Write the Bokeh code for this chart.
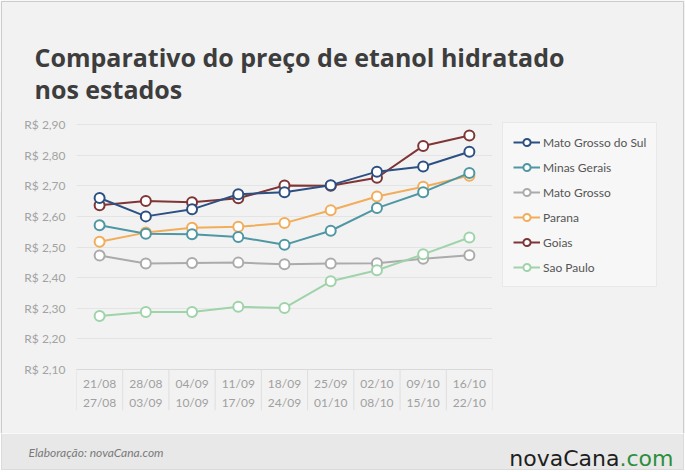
from bokeh.plotting import figure
from bokeh.models import (FactorRange, Range1d, FixedTicker, CustomJSTickFormatter,
                          Legend, LegendItem, Label, BoxAnnotation)
from bokeh.core.properties import value
from bokeh.embed import file_html
from bokeh.resources import INLINE

# ---------------- data ----------------
TITLE_1 = "Comparativo do preço de etanol hidratado"
TITLE_2 = "nos estados"
SOURCE = "Elaboração: novaCana.com"
LOGO_MAIN = "novaCana"
LOGO_TLD = ".com"

WEEK_START = ["21/08", "28/08", "04/09", "11/09", "18/09", "25/09", "02/10", "09/10", "16/10"]
WEEK_END = ["27/08", "03/09", "10/09", "17/09", "24/09", "01/10", "08/10", "15/10", "22/10"]
Y_TICKS = [2.10, 2.20, 2.30, 2.40, 2.50, 2.60, 2.70, 2.80, 2.90]

mato_grosso_do_sul = [2.660, 2.600, 2.623, 2.672, 2.679, 2.702, 2.746, 2.763, 2.811]
minas_gerais = [2.571, 2.543, 2.542, 2.533, 2.507, 2.553, 2.627, 2.679, 2.742]
mato_grosso = [2.472, 2.446, 2.448, 2.449, 2.444, 2.446, 2.447, 2.462, 2.473]
parana = [2.517, 2.547, 2.563, 2.566, 2.578, 2.620, 2.665, 2.697, 2.733]
goias = [2.636, 2.650, 2.646, 2.659, 2.701, 2.700, 2.726, 2.830, 2.864]
sao_paulo = [2.275, 2.288, 2.288, 2.305, 2.301, 2.388, 2.424, 2.476, 2.531]

SERIES_NAMES = ["Mato Grosso do Sul", "Minas Gerais", "Mato Grosso", "Parana", "Goias", "Sao Paulo"]
SERIES_VALUES = [mato_grosso_do_sul, minas_gerais, mato_grosso, parana, goias, sao_paulo]
SERIES_COLORS = ["#2d5083", "#4f97a3", "#ababab", "#f2ad5b", "#7f3535", "#9fd3a9"]
DRAW_ORDER = [4, 3, 2, 5, 1, 0]

# ---------------- layout constants (pixels) ----------------
W = 685
H_TOP, H_MAIN, H_FOOT = 112, 321, 39
FONT = "Lato"
BG = "#f2f2f2"
EDGE = "#cccccc"

FL, FR, FT, FB = 76, 492, 0, 298
Y_TOP_PX, Y_BOT_PX = 12.0, 257.0
PPU = (Y_BOT_PX - Y_TOP_PX) / (Y_TICKS[-1] - Y_TICKS[0])
Y0 = Y_TICKS[0]
y_start = Y0 - (FB - Y_BOT_PX) / PPU
y_end = Y_TICKS[-1] + (Y_TOP_PX - FT) / PPU


def plain_fig(h, fill):
    f = figure(width=W, height=h, output_backend="svg", toolbar_location=None,
               x_range=Range1d(0, W), y_range=Range1d(h, 0),
               min_border_left=0, min_border_right=0,
               min_border_top=0, min_border_bottom=0)
    f.axis.visible = False
    f.grid.visible = False
    f.background_fill_color = fill
    f.border_fill_color = fill
    f.outline_line_color = None
    return f


# ---------------- title ----------------
top = plain_fig(H_TOP, BG)
top.segment(x0=[1, 1, 683], y0=[1, 1, 1], x1=[683, 1, 683], y1=[1, H_TOP, H_TOP],
            line_color=EDGE, line_width=1)
for txt, base in [(TITLE_1, 56.7), (TITLE_2, 88.3)]:
    top.add_layout(Label(x=34, y=base, text=txt, text_font="Open Sans", text_font_size="25px",
                         text_font_style="bold", text_color="#3d3d3d",
                         text_baseline="alphabetic", text_align="left"))

# ---------------- main chart ----------------
p = figure(frame_width=FR - FL, frame_height=FB - FT, output_backend="svg",
           toolbar_location=None,
           x_range=FactorRange(factors=WEEK_START, range_padding=0, factor_padding=0),
           y_range=Range1d(y_start, y_end),
           min_border_left=FL, min_border_right=W - FR,
           min_border_top=FT, min_border_bottom=H_MAIN - FB)
p.background_fill_color = BG
p.border_fill_color = None
p.outline_line_color = None
p.styles = {"background": "linear-gradient(to right, %s 1px, %s 1px, %s 2px, %s 2px, "
                          "%s 683px, %s 683px, %s 684px, %s 684px)"
                          % (BG, EDGE, EDGE, BG, BG, EDGE, EDGE, BG)}

p.xaxis.visible = False
p.xgrid.visible = False

yax = p.yaxis[0]
yax.ticker = FixedTicker(ticks=Y_TICKS)
yax.formatter = CustomJSTickFormatter(code='return "R$ " + tick.toFixed(2).replace(".", ",")')
yax.axis_line_color = None
yax.major_tick_line_color = None
yax.minor_tick_line_color = None
yax.major_tick_in = 0
yax.major_tick_out = 0
yax.minor_tick_in = 0
yax.minor_tick_out = 0
yax.major_label_standoff = 11
yax.major_label_text_font = FONT
yax.major_label_text_font_size = "12px"
yax.major_label_text_color = "#a3a3a3"
p.ygrid.ticker = FixedTicker(ticks=Y_TICKS)
p.ygrid.grid_line_color = "#e4e4e4"
p.ygrid.grid_line_width = 1

n = len(WEEK_START)
p.segment(x0=[0], y0=[Y0], x1=[n], y1=[Y0], line_color="#d9d9d9", line_width=1)
p.segment(x0=list(range(n + 1)), y0=[Y0] * (n + 1), x1=list(range(n + 1)),
          y1=[Y0 - 41 / PPU] * (n + 1), line_color="#dedede", line_width=1)
p.text(x=WEEK_START, y=[Y0 - 13.7 / PPU] * n, text=WEEK_START,
       text_font=value(FONT), text_font_size="12px", text_color="#a0a0a0",
       text_align="center", text_baseline="middle")
p.text(x=WEEK_START, y=[Y0 - 33.3 / PPU] * n, text=WEEK_END,
       text_font=value(FONT), text_font_size="12px", text_color="#a0a0a0",
       text_align="center", text_baseline="middle")

items = [None] * len(SERIES_NAMES)
for i in DRAW_ORDER:
    c = SERIES_COLORS[i]
    ln = p.line(x=WEEK_START, y=SERIES_VALUES[i], line_color=c, line_width=2)
    sc = p.scatter(x=WEEK_START, y=SERIES_VALUES[i], size=10, marker="circle",
                   fill_color="white", line_color=c, line_width=2)
    items[i] = LegendItem(label=SERIES_NAMES[i], renderers=[ln, sc])

legend = Legend(items=items, location="top_left")
legend.background_fill_color = "#f7f7f7"
legend.background_fill_alpha = 1
legend.border_line_color = "#dcdcdc"
legend.label_text_font = FONT
legend.label_text_font_size = "12px"
legend.label_text_color = "#555555"
legend.glyph_width = 27
legend.glyph_height = 18
legend.label_height = 18
legend.spacing = 7
legend.padding = 10
legend.margin = 10
legend.label_standoff = 3
p.add_layout(legend, "right")

# ---------------- footer ----------------
foot = plain_fig(H_FOOT, "#ffffff")
foot.add_layout(BoxAnnotation(left=1, right=683, top=0, bottom=36,
                              fill_color="#e8e8e8", fill_alpha=1, line_color=None))
foot.segment(x0=[1, 683, 1], y0=[0, 0, 36], x1=[1, 683, 683], y1=[36, 36, 36],
             line_color=EDGE, line_width=1)
foot.add_layout(Label(x=28, y=18.7, text=SOURCE, text_font=FONT, text_font_size="12px",
                      text_font_style="italic", text_color="#7a7a7a",
                      text_baseline="middle", text_align="left"))
foot.add_layout(Label(x=619, y=25, text=LOGO_MAIN, text_font="DejaVu Sans",
                      text_font_size="22px", text_color="#1e1e1e",
                      text_baseline="alphabetic", text_align="right"))
foot.add_layout(Label(x=619, y=25, text=LOGO_TLD, text_font="DejaVu Sans",
                      text_font_size="22px", text_color="#2b8f3c",
                      text_baseline="alphabetic", text_align="left"))

open("out.html", "w").write(file_html([top, p, foot], INLINE))
